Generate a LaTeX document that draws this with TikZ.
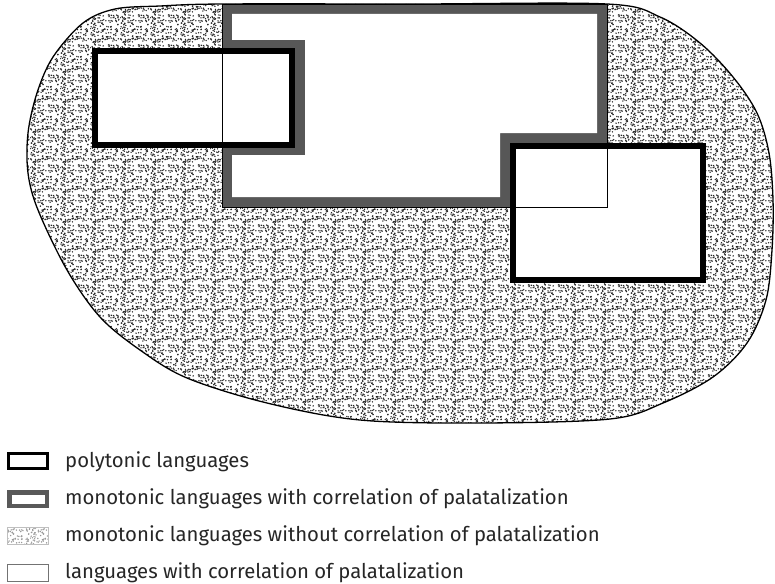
\documentclass[tikz,border=0pt]{standalone}
\usepackage{fontspec}
\setmainfont{Fira Sans}
\usetikzlibrary{patterns.meta}

% random stipple tile for the outer area
\tikzdeclarepattern{
  name=stipple, type=uncolored,
  bottom left={(0pt,0pt)}, top right={(30pt,30pt)},
  tile size={(30pt,30pt)},
  code={
    \pgfmathsetseed{7}
    \foreach \i in {1,...,150}
      \fill ({rnd*30pt},{rnd*30pt}) circle (0.8pt);
  }
}

\tikzset{
  outerarea/.style={pattern={stipple}, pattern color=black!85, draw=black, line width=1.3pt},
  monoband/.style={fill=black!66},
  polyframe/.style={fill=white, draw=black, line width=6pt},
  palline/.style={draw=black, line width=0.9pt},
  legtext/.style={anchor=base west, font=\fontsize{20.3}{24}\selectfont, text=black!85, inner sep=0pt},
  polykey/.style={draw=black, line width=3pt, minimum width=39pt, minimum height=15pt, inner sep=0pt},
  monokey/.style={draw=black!65, line width=4.5pt, minimum width=37.5pt, minimum height=13.5pt, inner sep=0pt},
  stipkey/.style={pattern={stipple}, pattern color=black!40, draw=black!25, line width=0.6pt, minimum width=41pt, minimum height=17pt, inner sep=0pt},
  palkey/.style={draw=black!55, line width=0.8pt, minimum width=41pt, minimum height=17pt, inner sep=0pt}
}

\begin{document}
\begin{tikzpicture}[x=1pt, y=-1pt, line join=miter]
  \useasboundingbox (0,0) rectangle (775,583);

  % outer area: monotonic languages without correlation
  \path[outerarea] plot[smooth cycle, tension=0.55] coordinates {
    (160,6) (222,4) (415,4) (607,4) (660,17) (700,43) (733,77) (757,113)
    (769,153) (773,200) (772,250) (766,300) (747,343) (713,377) (663,403)
    (610,419) (480,423) (360,420) (267,403) (187,378) (140,350) (100,317)
    (67,270) (38,210) (28,173) (28,133) (37,93) (53,57) (83,23) (115,9)};

  % monotonic languages with correlation: grey band
  \fill[monoband] (222,4) rectangle (607,207);
  \fill[white] (232,14) -- (597,14) -- (597,133) -- (500,133) -- (500,197)
    -- (232,197) -- (232,155) -- (305,155) -- (305,40) -- (232,40) -- cycle;

  % polytonic languages
  \draw[polyframe] (95,51) rectangle (292,145);
  \draw[polyframe] (513,146) rectangle (703,280);

  % languages with correlation of palatalization
  \draw[palline] (222,4) rectangle (607,207);

  % legend
  \node[polykey] (polykey) at (28,461) {};
  \node[monokey] (monokey) at (28,499) {};
  \node[stipkey] (stipkey) at (28,536) {};
  \node[palkey] (palkey) at (28,573) {};
  \node[legtext] (polytxt) at (65,467) {polytonic languages};
  \node[legtext] (monotxt) at (65,504) {monotonic languages with correlation of palatalization};
  \node[legtext] (stiptxt) at (65,541) {monotonic languages without correlation of palatalization};
  \node[legtext] (paltxt) at (65,578) {languages with correlation of palatalization};
\end{tikzpicture}
\end{document}
